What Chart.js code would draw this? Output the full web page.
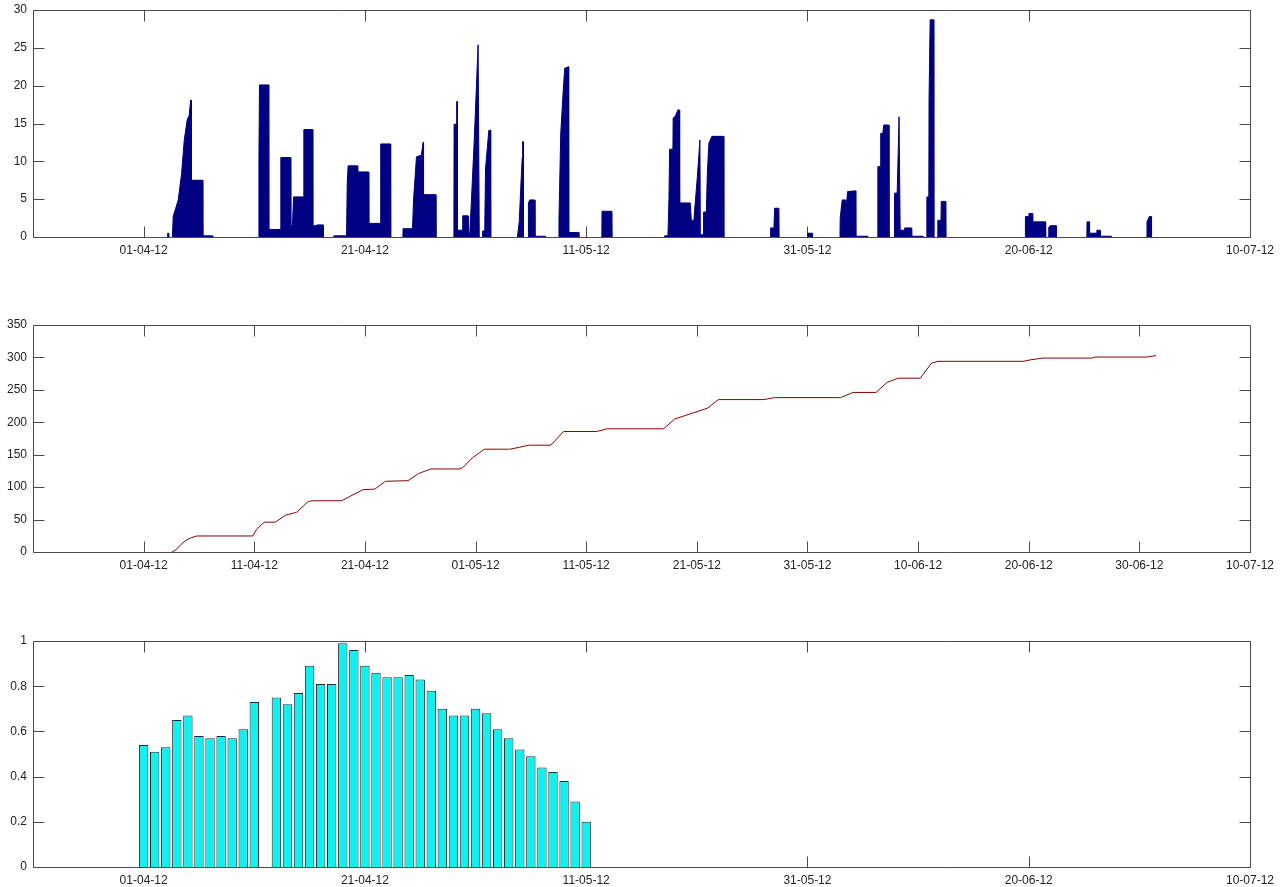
<!DOCTYPE html>
<html>
<head>
<meta charset="utf-8">
<script src="https://cdn.jsdelivr.net/npm/chart.js@4.4.1/dist/chart.umd.min.js"></script>
<style>
  body { margin: 0; background: #fff; }
  canvas { position: absolute; left: 0; }
</style>
</head>
<body>
<canvas id="rainChart" width="1285" height="265" style="top:0px"></canvas>
<canvas id="cumChart" width="1285" height="265" style="top:315px"></canvas>
<canvas id="ratioChart" width="1285" height="256" style="top:631px"></canvas>
<script>
// x values are days counted from 22-03-12

// tick labels
var tickDays20 = [10, 30, 50, 70, 90, 110];
var tickLabels20 = ['01-04-12', '21-04-12', '11-05-12', '31-05-12', '20-06-12', '10-07-12'];
var tickDays10 = [10, 20, 30, 40, 50, 60, 70, 80, 90, 100, 110];
var tickLabels10 = ['01-04-12', '11-04-12', '21-04-12', '01-05-12', '11-05-12', '21-05-12',
                    '31-05-12', '10-06-12', '20-06-12', '30-06-12', '10-07-12'];

// rainfall intensity [day, mm]
var rainfall = [
  [12.15,0],[12.17,0.5],[12.28,0.5],[12.30,0],
  [12.60,0],[12.67,2.7],[13.13,4.9],[13.43,8.4],[13.67,12.8],[13.94,15.5],[14.12,16.1],[14.25,18.1],[14.30,18.1],[14.32,7.5],[15.33,7.5],[15.35,0.15],[16.23,0.15],[16.25,0],
  [20.40,0],[20.42,10.4],[20.47,20.1],[21.29,20.1],[21.31,1.0],[22.38,1.0],[22.40,10.5],[23.28,10.5],[23.30,1.5],[23.45,1.5],[23.55,5.3],[24.42,5.3],[24.48,14.2],[25.27,14.2],[25.29,1.4],[25.72,1.6],[26.22,1.6],[26.24,0],
  [27.17,0],[27.19,0.15],[28.34,0.15],[28.40,7],[28.48,9.4],[29.33,9.4],[29.35,8.6],[30.33,8.6],[30.35,1.8],[31.41,1.8],[31.43,12.3],[32.31,12.3],[32.33,0],
  [33.43,0],[33.45,1.1],[34.30,1.1],[34.40,5],[34.66,10.6],[35.10,10.8],[35.26,12.5],[35.30,5.6],[36.40,5.6],[36.42,0],
  [38.04,0],[38.06,14.9],[38.27,14.9],[38.30,17.9],[38.34,17.9],[38.36,0.9],[38.82,0.9],[38.84,2.8],[39.32,2.8],[39.34,0.3],[39.48,0.5],[39.63,4.9],[39.87,12.4],[40.08,19.9],[40.23,25.4],[40.30,25.4],[40.34,0],
  [40.62,0],[40.64,0.8],[40.83,0.8],[40.90,9],[41.20,14.1],[41.35,14.1],[41.37,0],
  [43.78,0],[43.95,2],[44.10,7],[44.22,10.5],[44.26,12.6],[44.30,12.6],[44.33,0],[44.76,0],[44.78,4.5],[44.90,4.9],[45.35,4.9],[45.37,0.1],[46.31,0.1],[46.33,0],
  [47.52,0],[47.54,2.3],[47.70,13.7],[47.91,19.0],[48.06,22.3],[48.40,22.5],[48.42,0.6],[49.32,0.6],[49.34,0],
  [51.41,0],[51.43,3.4],[52.33,3.4],[52.35,0],
  [57.07,0],[57.09,0.15],[57.39,0.15],[57.48,5],[57.54,11.6],[57.84,11.6],[57.86,15.7],[58.06,16.0],[58.29,16.8],[58.40,16.8],[58.45,4.5],[59.41,4.5],[59.50,2.2],[59.74,2.2],[59.80,3.5],[60.05,8],[60.28,12.8],[60.32,0.3],
  [60.59,0.3],[60.61,3.3],[60.86,3.3],[60.95,8.4],[61.09,12.4],[61.36,13.3],[62.42,13.3],[62.44,0],
  [66.65,0],[66.67,1.2],[66.97,1.2],[67.03,3.8],[67.42,3.8],[67.44,0],
  [70.02,0],[70.04,0.5],[70.43,0.5],[70.45,0],
  [72.94,0],[72.96,2.5],[73.14,4.9],[73.44,4.9],[73.46,0.3],[73.50,3.5],[73.62,6.0],[74.35,6.1],[74.37,0.1],[75.46,0.1],[75.48,0],
  [76.34,0],[76.36,9.3],[76.60,9.3],[76.62,13.7],[76.81,13.7],[76.90,14.8],[77.35,14.8],[77.37,0],
  [77.85,0],[77.87,5.8],[78.11,5.8],[78.28,15.9],[78.34,15.9],[78.38,0.9],[78.77,0.9],[78.79,1.2],[79.43,1.2],[79.45,0.1],[80.42,0.1],[80.44,0],
  [80.77,0],[80.79,5.3],[80.97,5.3],[80.99,18.1],[81.07,18.1],[81.09,28.7],[81.40,28.7],[81.42,0],
  [81.76,0],[81.78,2.2],[82.07,2.2],[82.09,4.7],[82.48,4.7],[82.50,0],
  [89.68,0],[89.70,2.7],[90.00,2.7],[90.02,3.1],[90.34,3.1],[90.36,2.0],[91.51,2.0],[91.53,0],
  [91.79,0],[91.81,1.3],[91.95,1.5],[92.47,1.5],[92.49,0],
  [95.25,0],[95.27,2.0],[95.48,2.0],[95.50,0.5],[96.14,0.5],[96.16,0.9],[96.45,0.9],[96.47,0.1],[97.44,0.1],[97.46,0],
  [100.67,0],[100.69,2.0],[100.84,2.5],[100.90,2.7],[101.08,2.7],[101.10,0]
];

// cumulative rainfall [day, mm]
var cumulative = [
  [12.56,0],[12.9,3],[13.4,12],[13.87,18.5],[14.3,22],[14.8,24.7],[19.87,24.7],[20.2,35],[20.9,46],[21.9,46],
  [22.85,57],[23.8,61],[24.9,78],[25.3,79],[27.9,79],[29.8,96],[30.9,97],[31.85,109],[33.9,110],[34.85,121],
  [35.96,128],[38.6,128],[38.9,131],[39.7,145],[40.8,158.5],[43.1,158.5],[44.0,161.6],[44.8,164.7],[46.8,164.7],
  [47.96,185.8],[50.95,185.8],[51.9,190],[57.0,190],[58.0,205],[61.0,222],[61.95,235],[66.07,235],[67.0,238],
  [73.0,238],[74.1,246],[76.2,246],[77.2,261.5],[78.2,268],[80.2,268],[81.2,291],[81.8,294],[89.5,294],
  [90.2,296.4],[91.3,299],[95.7,299],[96.0,300.6],[100.7,300.6],[101.5,303]
];

// daily values from 01-04-12 (day 10) to 11-05-12 (day 50), 12-04 missing
var ratioFirstDay = 10;
var ratio = [0.54, 0.51, 0.53, 0.65, 0.67, 0.58, 0.57, 0.58, 0.57, 0.61, 0.73, null,
             0.75, 0.72, 0.77, 0.89, 0.81, 0.81, 0.99, 0.96, 0.89, 0.86, 0.84, 0.84, 0.85,
             0.83, 0.78, 0.70, 0.67, 0.67, 0.70, 0.68, 0.61, 0.57, 0.52, 0.49, 0.44, 0.42,
             0.38, 0.29, 0.20];

Chart.defaults.font.family = '"Liberation Sans", Arial, sans-serif';
Chart.defaults.font.size = 12;
Chart.defaults.color = '#222';

// matlab style box with inward ticks on all four sides, drawn under the data
var boxTicks = {
  id: 'boxTicks',
  beforeDatasetsDraw: function(chart) {
    var ctx = chart.ctx, a = chart.chartArea, x = chart.scales.x, y = chart.scales.y;
    var L = Math.round(a.left) + 0.5, R = Math.round(a.right) + 0.5;
    var T = Math.round(a.top) + 0.5, B = Math.round(a.bottom) + 0.5;
    ctx.save();
    ctx.strokeStyle = '#4a4a4a';
    ctx.lineWidth = 1;
    ctx.beginPath();
    ctx.rect(L, T, R - L, B - T);
    x.ticks.forEach(function(t) {
      var px = Math.round(x.getPixelForValue(t.value)) + 0.5;
      ctx.moveTo(px, B); ctx.lineTo(px, B - 11);
      ctx.moveTo(px, T); ctx.lineTo(px, T + 11);
    });
    y.ticks.forEach(function(t) {
      var py = Math.round(y.getPixelForValue(t.value)) + 0.5;
      ctx.moveTo(L, py); ctx.lineTo(L + 11, py);
      ctx.moveTo(R, py); ctx.lineTo(R - 11, py);
    });
    ctx.stroke();
    ctx.restore();
  }
};

function makeScales(tickDays, tickLabels, yMax, yStep, xHeight) {
  return {
    x: {
      type: 'linear', min: 0, max: 110, offset: false,
      grid: { display: false, drawTicks: false, offset: false },
      border: { display: false },
      afterBuildTicks: function(s) { s.ticks = tickDays.map(function(v) { return { value: v }; }); },
      afterFit: function(s) { s.height = xHeight; },
      ticks: {
        autoSkip: false, maxRotation: 0, padding: 6,
        callback: function(v, i) { return tickLabels[i]; }
      }
    },
    y: {
      min: 0, max: yMax,
      grid: { display: false, drawTicks: false },
      border: { display: false },
      afterFit: function(s) { s.width = 33; s.paddingTop = 0; s.paddingBottom = 0; },
      ticks: {
        stepSize: yStep, padding: 6,
        callback: function(v) { return String(+v.toFixed(2)); }
      }
    }
  };
}

function baseOptions(scales) {
  return {
    responsive: false,
    animation: false,
    layout: { padding: { top: 10, right: 35, left: 0, bottom: 0 } },
    plugins: { legend: { display: false }, tooltip: { enabled: false } },
    scales: scales
  };
}

var navy = '#000080';

new Chart(document.getElementById('rainChart').getContext('2d'), {
  type: 'line',
  data: {
    datasets: [{
      data: rainfall.map(function(p) { return { x: p[0], y: p[1] }; }),
      borderColor: navy,
      backgroundColor: navy,
      borderWidth: 1,
      pointRadius: 0,
      tension: 0,
      fill: 'origin',
      segment: {
        borderColor: function(c) { return (c.p0.parsed.y === 0 && c.p1.parsed.y === 0) ? 'rgba(0,0,0,0)' : navy; }
      }
    }]
  },
  options: baseOptions(makeScales(tickDays20, tickLabels20, 30, 5, 28)),
  plugins: [boxTicks]
});

new Chart(document.getElementById('cumChart').getContext('2d'), {
  type: 'line',
  data: {
    datasets: [{
      data: cumulative.map(function(p) { return { x: p[0], y: p[1] }; }),
      borderColor: '#8b0000',
      borderWidth: 1,
      pointRadius: 0,
      tension: 0,
      fill: false
    }]
  },
  options: baseOptions(makeScales(tickDays10, tickLabels10, 350, 50, 28)),
  plugins: [boxTicks]
});

new Chart(document.getElementById('ratioChart').getContext('2d'), {
  type: 'bar',
  data: {
    datasets: [{
      data: ratio.map(function(v, i) { return { x: ratioFirstDay + i, y: v }; }),
      backgroundColor: '#10f0f0',
      borderColor: '#1e2e2e',
      borderWidth: 1,
      barPercentage: 0.85,
      categoryPercentage: 1.0
    }]
  },
  options: baseOptions(makeScales(tickDays20, tickLabels20, 1, 0.2, 20)),
  plugins: [boxTicks]
});
</script>
</body>
</html>
